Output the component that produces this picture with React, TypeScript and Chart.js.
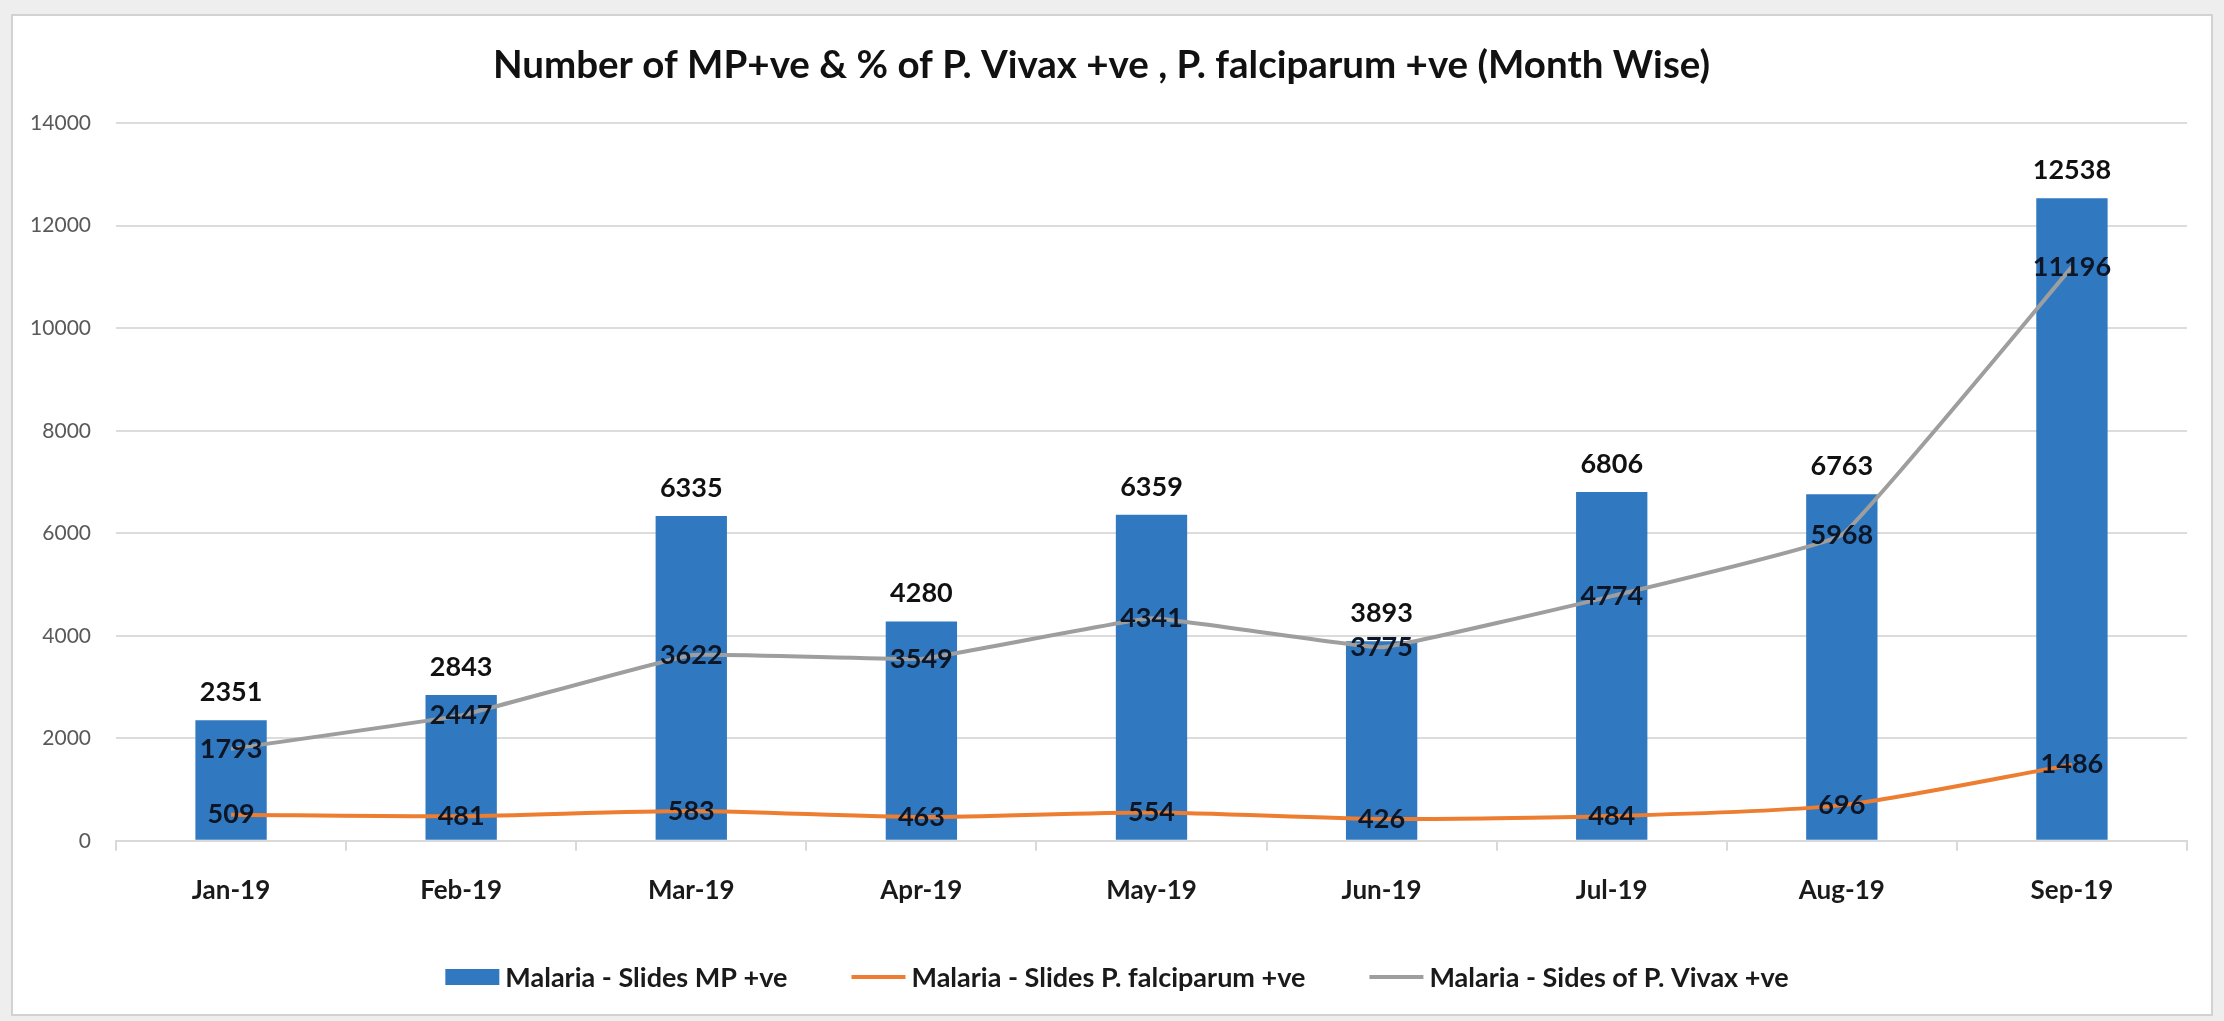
import React, { useEffect, useRef } from 'react';
import { Chart, registerables } from 'chart.js';

Chart.register(...registerables);

const months = ['Jan-19', 'Feb-19', 'Mar-19', 'Apr-19', 'May-19', 'Jun-19', 'Jul-19', 'Aug-19', 'Sep-19'];
const slidesMpPositive = [2351, 2843, 6335, 4280, 6359, 3893, 6806, 6763, 12538];
const falciparumPositive = [509, 481, 583, 463, 554, 426, 484, 696, 1486];
const vivaxPositive = [1793, 2447, 3622, 3549, 4341, 3775, 4774, 5968, 11196];
const seriesNames = ['Malaria - Slides MP +ve', 'Malaria - Slides P. falciparum +ve', 'Malaria - Sides of P. Vivax +ve'];
const yAxisMin = 0;
const yAxisMax = 14000;
const yAxisStep = 2000;
const chartTitle = 'Number of MP+ve & % of P. Vivax +ve , P. falciparum +ve (Month Wise)';

const FONT = 'Lato, "Open Sans", sans-serif';

const framePlugin = {
  id: 'frame',
  beforeDraw(chart: any) {
    const { ctx, width, height } = chart;
    ctx.save();
    ctx.fillStyle = '#eeeeee';
    ctx.fillRect(0, 0, width, height);
    ctx.fillStyle = '#ffffff';
    ctx.fillRect(12, 15, width - 24, height - 21);
    ctx.strokeStyle = '#d2d2d2';
    ctx.lineWidth = 2;
    ctx.strokeRect(12, 15, width - 24, height - 21);
    ctx.restore();
  },
};

const valueLabelPlugin = {
  id: 'valueLabels',
  afterDatasetsDraw(chart: any) {
    const { ctx } = chart;
    ctx.save();
    ctx.textAlign = 'center';
    ctx.textBaseline = 'middle';
    chart.data.datasets.forEach((ds: any, di: number) => {
      const meta = chart.getDatasetMeta(di);
      meta.data.forEach((el: any, i: number) => {
        const v = ds.data[i];
        ctx.font = `bold 27px ${FONT}`;
        if (ds.type === 'bar') {
          ctx.fillStyle = '#111111';
          ctx.fillText(String(v), el.x, el.y - 28);
        } else {
          ctx.fillStyle = '#0c1626';
          ctx.fillText(String(v), el.x, el.y);
        }
      });
    });
    ctx.restore();
  },
};

const legendPlugin = {
  id: 'customLegend',
  afterDraw(chart: any) {
    const { ctx } = chart;
    ctx.save();
    ctx.font = `bold 27px ${FONT}`;
    ctx.textBaseline = 'middle';
    ctx.textAlign = 'left';
    const boxW = 54;
    const gapText = 6;
    const gapItem = 64;
    const items = chart.data.datasets.map((ds: any) => ({
      label: ds.label,
      type: ds.type,
      color: ds.type === 'bar' ? ds.backgroundColor : ds.borderColor,
    }));
    const widths = items.map((it: any) => boxW + gapText + ctx.measureText(it.label).width);
    const total = widths.reduce((a: number, b: number) => a + b, 0) + gapItem * (items.length - 1);
    let x = 1117 - total / 2;
    const y = 977;
    items.forEach((it: any, k: number) => {
      if (it.type === 'bar') {
        ctx.fillStyle = it.color;
        ctx.fillRect(x, y - 8, boxW, 16);
      } else {
        ctx.strokeStyle = it.color;
        ctx.lineWidth = 4;
        ctx.beginPath();
        ctx.moveTo(x, y);
        ctx.lineTo(x + boxW, y);
        ctx.stroke();
      }
      ctx.fillStyle = '#1a1a1a';
      ctx.fillText(it.label, x + boxW + gapText, y + 1);
      x += widths[k] + gapItem;
    });
    ctx.restore();
  },
};

export default function App() {
  const ref = useRef<HTMLCanvasElement>(null);
  useEffect(() => {
    document.body.style.margin = '0';
    const canvas = ref.current;
    if (!canvas) return;
    const chart = new Chart(canvas, {
      type: 'bar',
      data: {
        labels: months,
        datasets: [
          {
            type: 'bar',
            label: seriesNames[0],
            data: slidesMpPositive,
            backgroundColor: '#3079c0',
            borderWidth: 0,
            barPercentage: 0.31,
            categoryPercentage: 1,
            order: 3,
          } as any,
          {
            type: 'line',
            label: seriesNames[1],
            data: falciparumPositive,
            borderColor: '#ed7d31',
            backgroundColor: '#ed7d31',
            borderWidth: 4,
            pointRadius: 0,
            tension: 0.25,
            order: 2,
          } as any,
          {
            type: 'line',
            label: seriesNames[2],
            data: vivaxPositive,
            borderColor: '#9e9e9e',
            backgroundColor: '#9e9e9e',
            borderWidth: 4,
            pointRadius: 0,
            tension: 0.08,
            order: 1,
          } as any,
        ],
      },
      options: {
        responsive: false,
        animation: false,
        devicePixelRatio: 1,
        layout: { padding: { left: 16, right: 37, top: 3, bottom: 91 } },
        plugins: {
          legend: { display: false },
          tooltip: { enabled: false },
          title: {
            display: true,
            text: chartTitle,
            color: '#111111',
            font: { family: FONT, size: 38.5, weight: 'bold' },
            padding: { top: 39, bottom: 35 },
          },
        },
        scales: {
          x: {
            grid: {
              display: true,
              drawOnChartArea: false,
              drawTicks: true,
              tickLength: 10,
              color: '#d9d9d9',
              lineWidth: 2,
            },
            border: { display: true, color: '#d9d9d9', width: 2 },
            ticks: {
              color: '#1a1a1a',
              font: { family: FONT, size: 26, weight: 'bold' },
              padding: 24,
              maxRotation: 0,
              autoSkip: false,
            },
          },
          y: {
            min: yAxisMin,
            max: yAxisMax,
            afterFit(scale: any) {
              scale.width = 100;
            },
            grid: { color: '#dcdcdc', lineWidth: 2, drawTicks: false },
            border: { display: false },
            ticks: {
              stepSize: yAxisStep,
              color: '#595959',
              font: { family: FONT, size: 21 },
              padding: 25,
              callback: (v: any) => String(v),
            },
          },
        },
      },
      plugins: [framePlugin, valueLabelPlugin, legendPlugin],
    });
    return () => chart.destroy();
  }, []);
  return <canvas ref={ref} width={2224} height={1021} style={{ display: 'block', width: 2224, height: 1021 }} />;
}
